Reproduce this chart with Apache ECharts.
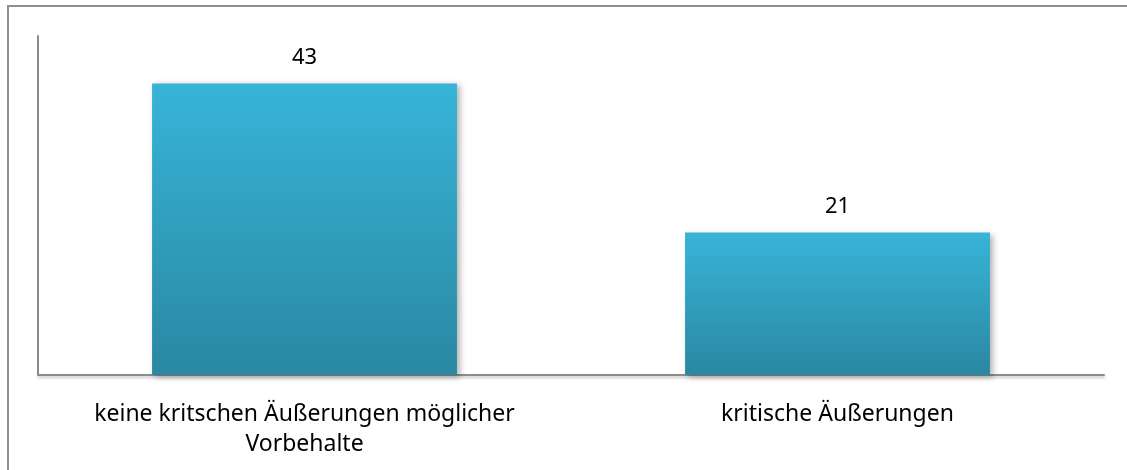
<!DOCTYPE html>
<html>
<head>
<meta charset="utf-8">
<script src="https://cdn.jsdelivr.net/npm/echarts@6/dist/echarts.min.js"></script>
<style>
html,body{margin:0;padding:0;background:#fff;}
#chart{width:1127px;height:470px;}
</style>
</head>
<body>
<div id="chart"></div>
<script>
var categories = ["keine kritschen Äußerungen möglicher\nVorbehalte", "kritische Äußerungen"];
var values = [43, 21];
var yMax = 50;

var chart = echarts.init(document.getElementById('chart'), null, {renderer: 'canvas'});
var font = '"Noto Sans", "Open Sans", sans-serif';
chart.setOption({
  animation: false,
  backgroundColor: '#fff',
  graphic: [{
    type: 'rect',
    shape: {x: 8, y: 6, width: 1200, height: 600},
    style: {fill: 'none', stroke: '#8f8f8f', lineWidth: 2},
    silent: true
  }],
  grid: {left: 38, right: 23, top: 36, bottom: 95, containLabel: false},
  xAxis: {
    type: 'category',
    data: categories,
    axisLine: {show: true, lineStyle: {color: '#8c8c8c', width: 2, shadowColor: 'rgba(0,0,0,0.25)', shadowBlur: 3, shadowOffsetY: 2}},
    axisTick: {show: false},
    axisLabel: {
      color: '#000', fontFamily: font, fontSize: 23, lineHeight: 30, margin: 24,
      interval: 0
    }
  },
  yAxis: {
    type: 'value',
    min: 0, max: yMax,
    axisLine: {show: true, lineStyle: {color: '#8c8c8c', width: 2}},
    axisTick: {show: false},
    axisLabel: {show: false},
    splitLine: {show: false}
  },
  series: [{
    type: 'bar',
    data: values,
    barCategoryGap: '42.8%',
    itemStyle: {
      color: {
        type: 'linear', x: 0, y: 0, x2: 0, y2: 1,
        colorStops: [{offset: 0, color: '#37b4d8'}, {offset: 1, color: '#2a88a2'}]
      },
      shadowColor: 'rgba(0,0,0,0.3)', shadowBlur: 6, shadowOffsetX: 3, shadowOffsetY: 2
    },
    label: {
      show: true, position: 'top', distance: 15,
      color: '#000', fontFamily: font, fontSize: 22
    }
  }]
});
</script>
</body>
</html>
